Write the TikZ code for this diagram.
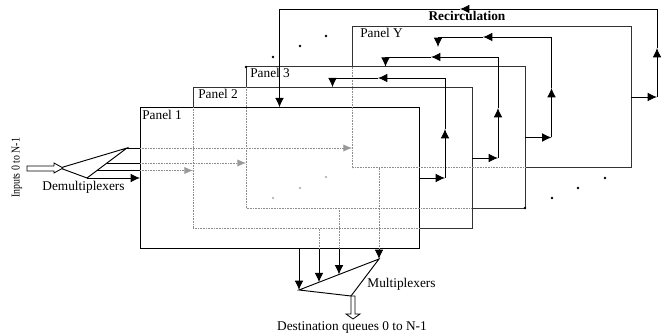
\documentclass[tikz,border=0pt]{standalone}
\usepackage{fontspec}
\setmainfont{Liberation Serif}
\usetikzlibrary{arrows.meta, calc}

\tikzset{
    panel/.style={draw=black!80, fill=white, line width=0.75pt, inner sep=0pt, outer sep=0pt, minimum width=209.25pt, minimum height=106.1pt},
    flow/.style={draw=black, line width=0.7pt},
    hiddenline/.style={draw=black!45, line width=0.7pt, dash pattern=on 0.7pt off 0.5pt},
    hiddentip/.style={-{Latex[length=6.5pt, width=5.5pt, black!40]}},
    openarrow/.style={draw=black, line width=0.6pt, fill=white},
    dotmark/.style={fill=black}
}

\begin{document}
\begin{tikzpicture}[>={Latex[length=7pt, width=6.5pt]}, x=0.75pt, y=-0.75pt]
        \path[use as bounding box] (0, 0) rectangle (664, 334);
        % panels, back to front
        \node[panel] (panelY) at (491.5, 97) {};
        \node[panel] (panel3) at (385.5, 137.5) {};
        \node[panel] (panel2) at (332.5, 158) {};
        \node[panel, draw=black] (panel1) at (279.5, 178) {};
        \node[anchor=west, inner sep=0pt] (labelY) at (360, 33) {Panel Y};
        \node[anchor=west, inner sep=0pt] (label3) at (250, 73) {Panel 3};
        \node[anchor=west, inner sep=0pt] (label2) at (198, 94) {Panel 2};
        \node[anchor=west, inner sep=0pt] (label1) at (142, 115) {Panel 1};
        % edges seen through the panels in front
        \foreach \back/\front in {panel2/panel1, panel3/panel2, panelY/panel3} {
            \draw[hiddenline] (\back.south west |- \front.north) -- (\back.south west) -- (\front.east |- \back.south);
        }
        % recirculation
        \coordinate (entryY) at (438, 47);
        \foreach \src/\dst/\xrise/\ytop/\yup/\xleft in {panel1/panel2.north/445/78/129/378, panel2/panel3.north/498/57/108/431, panel3/entryY/551.5/37/88/483, panelY/panel1.north/657/9/48/460} {
            \coordinate (rise) at (\xrise, \ytop);
            \draw[flow, ->] (\src.east) -- (\src.east -| rise);
            \draw[flow, ->] (\src.east -| rise) -- (\xrise, \yup);
            \draw[flow, ->] (\xrise, \yup) -- (rise) -- (\xleft, \ytop);
            \draw[flow, ->] (\xleft, \ytop) -- (\dst |- rise) -- (\dst);
        }
        \node[font=\bfseries] (recirc) at (467, 16) {Recirculation};
        % demultiplexer
        \coordinate (demuxA) at (60, 168);
        \coordinate (demuxB) at (127, 148);
        \coordinate (demuxC) at (87, 178);
        \draw[flow] (demuxA) -- (demuxB) -- (demuxC) -- cycle;
        \draw[openarrow] (27, 166) -- (54, 166) -- (54, 163) -- (63, 168) -- (54, 173) -- (54, 171) -- (27, 171) -- cycle;
        \foreach \pos/\dst in {1/panelY, 0.5/panel3, 0.25/panel2} {
            \coordinate (tap) at ($(demuxC)!\pos!(demuxB)$);
            \draw[flow] (tap) -- (tap -| panel1.west);
            \draw[hiddenline, hiddentip] (tap -| panel1.west) -- (tap -| \dst.west);
        }
        \draw[flow, ->] (demuxC) -- (demuxC -| panel1.west);
        \node (inputs) at (17, 168) [rotate=90, font=\fontsize{9}{11}\selectfont] {\scalebox{0.82}[1]{Inputs 0 to N-1}};
        \node (demuxlabel) at (83.5, 187) {Demultiplexers};
        % multiplexer
        \coordinate (muxA) at (299, 290);
        \coordinate (muxB) at (379, 259);
        \coordinate (muxC) at (351, 296);
        \draw[flow] (muxA) -- (muxB) -- (muxC) -- cycle;
        \draw[flow, ->] (muxA |- panel1.south) -- (muxA);
        \foreach \pos/\src in {0.25/panel2, 0.5/panel3, 1/panelY} {
            \coordinate (drop) at ($(muxA)!\pos!(muxB)$);
            \draw[hiddenline] (drop |- \src.south) -- (drop |- panel1.south);
            \draw[flow, ->] (drop |- panel1.south) -- (drop);
        }
        \draw[openarrow] (351, 296) -- (355, 296) -- (355, 314) -- (360, 314) -- (353, 319) -- (346, 314) -- (351, 314) -- cycle;
        \node (muxlabel) at (401.5, 284) {Multiplexers};
        \node (queues) at (352, 327) {Destination queues 0 to N-1};
        % dots between the panels
        \foreach \x/\y in {273/57, 300/46, 326/36, 552/198, 578/188, 605/178, 246/67, 525/208} {
            \fill[dotmark] (\x, \y) circle (1pt);
        }
        \foreach \x/\y in {273/198, 300/188, 326/177} {
            \fill[black!35] (\x, \y) circle (0.9pt);
        }
    \end{tikzpicture}
\end{document}
